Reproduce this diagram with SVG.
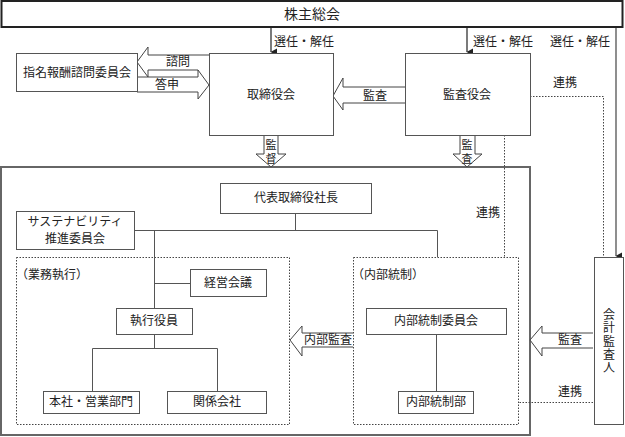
<svg xmlns="http://www.w3.org/2000/svg" width="625" height="437" viewBox="0 0 625 437">
<defs>
<style>
text{font-family:"Liberation Serif","Noto Sans CJK JP",serif;font-size:12px;fill:#222;text-anchor:middle;dominant-baseline:central}
.b{fill:#fff;stroke:#555;stroke-width:1}
.dot{fill:none;stroke:#444;stroke-width:1;stroke-dasharray:1.5 1.5}
.ln{fill:none;stroke:#555;stroke-width:1}
.ar{fill:#fff;stroke:#444;stroke-width:1}
.s{font-size:11px}
</style>
<marker id="ah" markerWidth="8" markerHeight="8" refX="4" refY="7" orient="auto-start-reverse" markerUnits="userSpaceOnUse" viewBox="0 0 8 8">
<path d="M0.5,1 L7.5,1 L4,7.5 Z" fill="#222"/>
</marker>
</defs>
<rect width="625" height="437" fill="#fff"/>

<g id="main-frame"><rect x="1" y="167" width="529" height="268" fill="none" stroke="#666" stroke-width="2"/></g>
<g id="gyomu-frame"><rect x="16.5" y="257.5" width="273" height="167" class="dot"/><text x="52" y="275" text-anchor="middle">（業務執行）</text></g>
<g id="naibu-frame"><rect x="353.5" y="257.5" width="165" height="167" class="dot"/><text x="388" y="275">（内部統制）</text></g>

<g id="connectors">
<line x1="271" y1="28" x2="271" y2="52" stroke="#222" stroke-width="1.2" marker-end="url(#ah)"/>
<line x1="467" y1="28" x2="467" y2="52" stroke="#222" stroke-width="1.2" marker-end="url(#ah)"/>
<line x1="616" y1="28" x2="616" y2="256" stroke="#444" stroke-width="1.2" marker-end="url(#ah)"/>
<text x="304" y="42">選任・解任</text>
<text x="503" y="42">選任・解任</text>
<text x="580" y="42">選任・解任</text>

<path d="M209,55 H148 V47 L137,62 L148,77 V70 H198" class="ar"/>
<path d="M137,77 H198 V70 L209,85 L198,99 V92 H137" class="ar"/>
<text x="178" y="62">諮問</text>
<text x="167" y="85">答申</text>

<path d="M405,87 H343 V78 L333,96 L343,110 V103 H405" class="ar"/>
<text x="375" y="96">監査</text>

<path d="M264,135 V154 H256 L271,167 L286,154 H278 V135" class="ar"/>
<text x="271" y="145" class="s">監</text><text x="271" y="159" class="s">督</text>
<path d="M460,135 V154 H453 L467,167 L482,154 H475 V135" class="ar"/>
<text x="467" y="145" class="s">監</text><text x="467" y="159" class="s">査</text>

<path d="M530,96.5 H603.5 V257" class="dot"/>
<text x="565" y="83">連携</text>
<path d="M504.5,135 V257" class="dot"/>
<text x="488" y="213">連携</text>
<path d="M593,402.5 H519" class="dot"/>
<text x="570" y="392">連携</text>

<path d="M295.5,213 V230.5 M134,230.5 H437.5 V257 M154.5,230.5 V308 M154.5,283.5 H190 M154.5,334 V348.5 M92.5,348.5 H217.5 M92.5,348.5 V391 M217.5,348.5 V391 M436.5,334 V391" class="ln"/>

<path d="M353,333 H302 V326 L290,340 L302,356 V347 H353" class="ar"/>
<text x="328" y="340">内部監査</text>
<path d="M593,333 H542 V326 L530,340 L542,356 V348 H593" class="ar"/>
<text x="570" y="340">監査</text>
</g>

<g id="kabunushi"><rect x="1.5" y="1" width="621" height="26" fill="#fff" stroke="#222" stroke-width="2"/><text x="312" y="14" style="font-size:14px">株主総会</text></g>
<g id="torishimariyakukai"><rect x="209.5" y="53.5" width="124" height="82" class="b"/><text x="271" y="95">取締役会</text></g>
<g id="kansayakukai"><rect x="405.5" y="53.5" width="125" height="82" class="b"/><text x="467" y="95">監査役会</text></g>
<g id="shimei"><rect x="16.5" y="53.5" width="121" height="38" class="b"/><text x="77" y="73">指名報酬諮問委員会</text></g>
<g id="daihyo"><rect x="220.5" y="183.5" width="151" height="30" class="b"/><text x="296" y="198">代表取締役社長</text></g>
<g id="sustain"><rect x="16.5" y="211.5" width="118" height="38" class="b"/><text x="75" y="222">サステナビリティ</text><text x="75" y="239">推進委員会</text></g>
<g id="keiei"><rect x="190.5" y="269.5" width="76" height="27" class="b"/><text x="228" y="283">経営会議</text></g>
<g id="shikko"><rect x="116.5" y="308.5" width="76" height="26" class="b"/><text x="154" y="321">執行役員</text></g>
<g id="honsha"><rect x="43.5" y="391.5" width="96" height="22" class="b"/><text x="91" y="402">本社・営業部門</text></g>
<g id="kankei"><rect x="167.5" y="391.5" width="99" height="22" class="b"/><text x="217" y="402">関係会社</text></g>
<g id="naibu-iinkai"><rect x="366.5" y="308.5" width="140" height="26" class="b"/><text x="436" y="321">内部統制委員会</text></g>
<g id="naibu-bu"><rect x="398.5" y="391.5" width="75" height="22" class="b"/><text x="436" y="402">内部統制部</text></g>
<g id="kaikei"><rect x="594.5" y="257.5" width="29" height="167" class="b"/>
<text x="609" y="315">会</text><text x="609" y="328">計</text><text x="609" y="342">監</text><text x="609" y="355">査</text><text x="609" y="368">人</text></g>
</svg>
